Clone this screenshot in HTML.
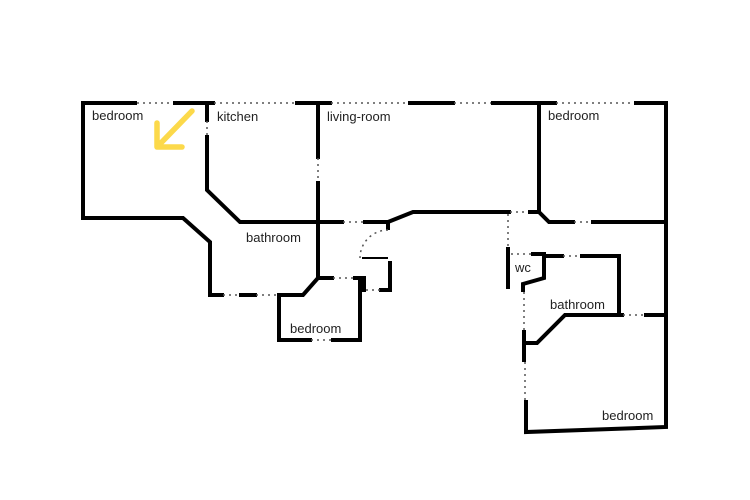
<!DOCTYPE html>
<html><head><style>
html,body{margin:0;padding:0;background:#fff;}
svg{display:block;}
text{font-family:"Liberation Sans",sans-serif;font-size:13px;fill:#222;}
.w{stroke:#000;stroke-width:4;fill:none;stroke-linecap:square;stroke-linejoin:miter;}
.d{stroke:#555;stroke-width:1.5;fill:none;stroke-dasharray:2 4;}
</style></head><body>
<svg width="750" height="500" viewBox="0 0 750 500">
<!-- top wall -->
<path class="w" d="M83 218 V103 H135"/>
<path class="d" d="M137 103 H175"/>
<path class="w" d="M175 103 H213"/>
<path class="d" d="M214 103 H297"/>
<path class="w" d="M297 103 H330"/>
<path class="d" d="M331 103 H408"/>
<path class="w" d="M410 103 H453"/>
<path class="d" d="M454 103 H492"/>
<path class="w" d="M493 103 H555"/>
<path class="d" d="M556 103 H635"/>
<path class="w" d="M636 103 H666 V427 L526 432 V402"/>
<!-- left bedroom bottom -->
<path class="w" d="M83 218 H183 L210 242 V295 H222"/>
<path class="d" d="M223 295 H240"/>
<path class="w" d="M241 295 H255"/>
<path class="d" d="M256 295 H278"/>
<!-- kitchen wall -->
<path class="w" d="M207 103 V120"/>
<path class="d" d="M207 121 V136"/>
<path class="w" d="M207 137 V190 L240 222 H342"/>
<path class="d" d="M343 222 H364"/>
<path class="w" d="M365 222 H388 L413 212 H509"/>
<path class="w" d="M388 222 V228"/>
<!-- living room left wall -->
<path class="w" d="M318 103 V157"/>
<path class="d" d="M318 158 V182"/>
<path class="w" d="M318 183 V278 L303 295 H279 V340 H310"/>
<path class="d" d="M311 340 H332"/>
<path class="w" d="M333 340 H360 V278 H355"/>
<path class="w" d="M318 278 H332"/>
<path class="d" d="M333 278 H354"/>
<!-- door -->
<path class="d" d="M388 230 A28 28 0 0 0 360 258"/>
<path stroke="#000" stroke-width="2" d="M362 258 H388"/>
<path class="w" d="M390 263 V290 H381"/>
<path class="d" d="M366 290 H380"/>
<path class="w" d="M364 278 V290"/>
<!-- right bedroom -->
<path class="w" d="M539 103 V212 L549 222 H573"/>
<path class="d" d="M574 222 H592"/>
<path class="w" d="M593 222 H666"/>
<path class="d" d="M510 212 H529"/>
<path class="w" d="M530 212 H539"/>
<!-- hallway / wc -->
<path class="d" d="M508 214 V247"/>
<path class="w" d="M508 249 V287"/>
<path class="d" d="M511 254 H532"/>
<path class="w" d="M533 254 H544 V278 L523 284 V290"/>
<path class="w" d="M544 256 H562"/>
<path class="d" d="M563 256 H581"/>
<path class="w" d="M582 256 H619 V315 H622"/>
<path class="d" d="M623 315 H645"/>
<path class="w" d="M646 315 H666"/>
<path class="w" d="M619 315 H565 L537 343 H526"/>
<path class="d" d="M524 292 V330"/>
<path class="w" d="M524 332 V360"/>
<path class="d" d="M525 362 V400"/>
<!-- arrow -->
<path d="M192 111 L158 146 M157 123 V147 H182" stroke="#fcd94a" stroke-width="5.5" fill="none" stroke-linecap="round" stroke-linejoin="round"/>
<!-- labels -->
<text x="92" y="120">bedroom</text>
<text x="217" y="121">kitchen</text>
<text x="327" y="121">living-room</text>
<text x="548" y="120">bedroom</text>
<text x="246" y="242">bathroom</text>
<text x="290" y="333">bedroom</text>
<text x="515" y="272">wc</text>
<text x="550" y="309">bathroom</text>
<text x="602" y="420">bedroom</text>
</svg>
</body></html>
